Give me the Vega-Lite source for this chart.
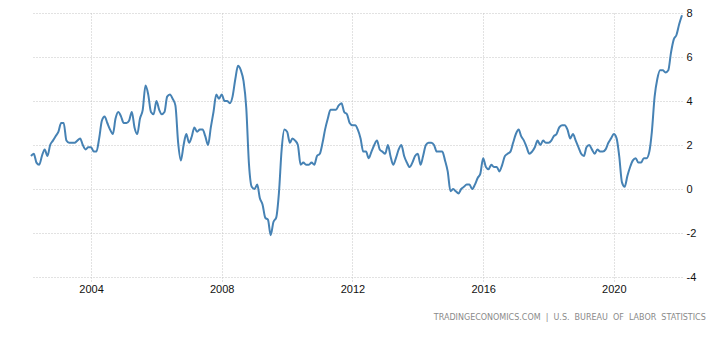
{
  "$schema": "https://vega.github.io/schema/vega-lite/v6.json",
  "autosize": {"type": "none"},
  "width": 651,
  "height": 264,
  "padding": {"left": 31, "top": 13, "right": 43, "bottom": 62},
  "background": "white",
  "config": {
    "view": {"stroke": null},
    "font": "Liberation Sans"
  },
  "title": {
    "text": "TRADINGECONOMICS.COM \u00a0| \u00a0U.S. \u00a0BUREAU \u00a0OF \u00a0LABOR \u00a0STATISTICS",
    "orient": "bottom",
    "anchor": "end",
    "font": "DejaVu Sans",
    "fontSize": 8,
    "fontWeight": "normal",
    "color": "#8a8a8a",
    "offset": 20,
    "dx": 10
  },
  "data": {
    "values": [
      {"d":"2002-03-01","v":1.5},{"d":"2002-04-01","v":1.6},{"d":"2002-05-01","v":1.2},{"d":"2002-06-01","v":1.1},{"d":"2002-07-01","v":1.5},{"d":"2002-08-01","v":1.8},{"d":"2002-09-01","v":1.5},{"d":"2002-10-01","v":2.0},{"d":"2002-11-01","v":2.2},{"d":"2002-12-01","v":2.4},
      {"d":"2003-01-01","v":2.6},{"d":"2003-02-01","v":3.0},{"d":"2003-03-01","v":3.0},{"d":"2003-04-01","v":2.2},{"d":"2003-05-01","v":2.1},{"d":"2003-06-01","v":2.1},{"d":"2003-07-01","v":2.1},{"d":"2003-08-01","v":2.2},{"d":"2003-09-01","v":2.3},{"d":"2003-10-01","v":2.0},{"d":"2003-11-01","v":1.8},{"d":"2003-12-01","v":1.9},
      {"d":"2004-01-01","v":1.9},{"d":"2004-02-01","v":1.7},{"d":"2004-03-01","v":1.7},{"d":"2004-04-01","v":2.3},{"d":"2004-05-01","v":3.1},{"d":"2004-06-01","v":3.3},{"d":"2004-07-01","v":3.0},{"d":"2004-08-01","v":2.7},{"d":"2004-09-01","v":2.5},{"d":"2004-10-01","v":3.2},{"d":"2004-11-01","v":3.5},{"d":"2004-12-01","v":3.3},
      {"d":"2005-01-01","v":3.0},{"d":"2005-02-01","v":3.0},{"d":"2005-03-01","v":3.1},{"d":"2005-04-01","v":3.5},{"d":"2005-05-01","v":2.8},{"d":"2005-06-01","v":2.5},{"d":"2005-07-01","v":3.2},{"d":"2005-08-01","v":3.6},{"d":"2005-09-01","v":4.7},{"d":"2005-10-01","v":4.3},{"d":"2005-11-01","v":3.5},{"d":"2005-12-01","v":3.4},
      {"d":"2006-01-01","v":4.0},{"d":"2006-02-01","v":3.6},{"d":"2006-03-01","v":3.4},{"d":"2006-04-01","v":3.5},{"d":"2006-05-01","v":4.2},{"d":"2006-06-01","v":4.3},{"d":"2006-07-01","v":4.1},{"d":"2006-08-01","v":3.8},{"d":"2006-09-01","v":2.1},{"d":"2006-10-01","v":1.3},{"d":"2006-11-01","v":2.0},{"d":"2006-12-01","v":2.5},
      {"d":"2007-01-01","v":2.1},{"d":"2007-02-01","v":2.4},{"d":"2007-03-01","v":2.8},{"d":"2007-04-01","v":2.6},{"d":"2007-05-01","v":2.7},{"d":"2007-06-01","v":2.7},{"d":"2007-07-01","v":2.4},{"d":"2007-08-01","v":2.0},{"d":"2007-09-01","v":2.8},{"d":"2007-10-01","v":3.5},{"d":"2007-11-01","v":4.3},{"d":"2007-12-01","v":4.1},
      {"d":"2008-01-01","v":4.3},{"d":"2008-02-01","v":4.0},{"d":"2008-03-01","v":4.0},{"d":"2008-04-01","v":3.9},{"d":"2008-05-01","v":4.2},{"d":"2008-06-01","v":5.0},{"d":"2008-07-01","v":5.6},{"d":"2008-08-01","v":5.4},{"d":"2008-09-01","v":4.9},{"d":"2008-10-01","v":3.7},{"d":"2008-11-01","v":1.1},{"d":"2008-12-01","v":0.1},
      {"d":"2009-01-01","v":0.0},{"d":"2009-02-01","v":0.2},{"d":"2009-03-01","v":-0.4},{"d":"2009-04-01","v":-0.7},{"d":"2009-05-01","v":-1.3},{"d":"2009-06-01","v":-1.4},{"d":"2009-07-01","v":-2.1},{"d":"2009-08-01","v":-1.5},{"d":"2009-09-01","v":-1.3},{"d":"2009-10-01","v":-0.2},{"d":"2009-11-01","v":1.8},{"d":"2009-12-01","v":2.7},
      {"d":"2010-01-01","v":2.6},{"d":"2010-02-01","v":2.1},{"d":"2010-03-01","v":2.3},{"d":"2010-04-01","v":2.2},{"d":"2010-05-01","v":2.0},{"d":"2010-06-01","v":1.1},{"d":"2010-07-01","v":1.2},{"d":"2010-08-01","v":1.1},{"d":"2010-09-01","v":1.1},{"d":"2010-10-01","v":1.2},{"d":"2010-11-01","v":1.1},{"d":"2010-12-01","v":1.5},
      {"d":"2011-01-01","v":1.6},{"d":"2011-02-01","v":2.1},{"d":"2011-03-01","v":2.7},{"d":"2011-04-01","v":3.2},{"d":"2011-05-01","v":3.6},{"d":"2011-06-01","v":3.6},{"d":"2011-07-01","v":3.6},{"d":"2011-08-01","v":3.8},{"d":"2011-09-01","v":3.9},{"d":"2011-10-01","v":3.5},{"d":"2011-11-01","v":3.4},{"d":"2011-12-01","v":3.0},
      {"d":"2012-01-01","v":2.9},{"d":"2012-02-01","v":2.9},{"d":"2012-03-01","v":2.7},{"d":"2012-04-01","v":2.3},{"d":"2012-05-01","v":1.7},{"d":"2012-06-01","v":1.7},{"d":"2012-07-01","v":1.4},{"d":"2012-08-01","v":1.7},{"d":"2012-09-01","v":2.0},{"d":"2012-10-01","v":2.2},{"d":"2012-11-01","v":1.8},{"d":"2012-12-01","v":1.7},
      {"d":"2013-01-01","v":1.6},{"d":"2013-02-01","v":2.0},{"d":"2013-03-01","v":1.5},{"d":"2013-04-01","v":1.1},{"d":"2013-05-01","v":1.4},{"d":"2013-06-01","v":1.8},{"d":"2013-07-01","v":2.0},{"d":"2013-08-01","v":1.5},{"d":"2013-09-01","v":1.2},{"d":"2013-10-01","v":1.0},{"d":"2013-11-01","v":1.2},{"d":"2013-12-01","v":1.5},
      {"d":"2014-01-01","v":1.6},{"d":"2014-02-01","v":1.1},{"d":"2014-03-01","v":1.5},{"d":"2014-04-01","v":2.0},{"d":"2014-05-01","v":2.1},{"d":"2014-06-01","v":2.1},{"d":"2014-07-01","v":2.0},{"d":"2014-08-01","v":1.7},{"d":"2014-09-01","v":1.7},{"d":"2014-10-01","v":1.7},{"d":"2014-11-01","v":1.3},{"d":"2014-12-01","v":0.8},
      {"d":"2015-01-01","v":-0.1},{"d":"2015-02-01","v":0.0},{"d":"2015-03-01","v":-0.1},{"d":"2015-04-01","v":-0.2},{"d":"2015-05-01","v":0.0},{"d":"2015-06-01","v":0.1},{"d":"2015-07-01","v":0.2},{"d":"2015-08-01","v":0.2},{"d":"2015-09-01","v":0.0},{"d":"2015-10-01","v":0.2},{"d":"2015-11-01","v":0.5},{"d":"2015-12-01","v":0.7},
      {"d":"2016-01-01","v":1.4},{"d":"2016-02-01","v":1.0},{"d":"2016-03-01","v":0.9},{"d":"2016-04-01","v":1.1},{"d":"2016-05-01","v":1.0},{"d":"2016-06-01","v":1.0},{"d":"2016-07-01","v":0.8},{"d":"2016-08-01","v":1.1},{"d":"2016-09-01","v":1.5},{"d":"2016-10-01","v":1.6},{"d":"2016-11-01","v":1.7},{"d":"2016-12-01","v":2.1},
      {"d":"2017-01-01","v":2.5},{"d":"2017-02-01","v":2.7},{"d":"2017-03-01","v":2.4},{"d":"2017-04-01","v":2.2},{"d":"2017-05-01","v":1.9},{"d":"2017-06-01","v":1.6},{"d":"2017-07-01","v":1.7},{"d":"2017-08-01","v":1.9},{"d":"2017-09-01","v":2.2},{"d":"2017-10-01","v":2.0},{"d":"2017-11-01","v":2.2},{"d":"2017-12-01","v":2.1},
      {"d":"2018-01-01","v":2.1},{"d":"2018-02-01","v":2.2},{"d":"2018-03-01","v":2.4},{"d":"2018-04-01","v":2.5},{"d":"2018-05-01","v":2.8},{"d":"2018-06-01","v":2.9},{"d":"2018-07-01","v":2.9},{"d":"2018-08-01","v":2.7},{"d":"2018-09-01","v":2.3},{"d":"2018-10-01","v":2.5},{"d":"2018-11-01","v":2.2},{"d":"2018-12-01","v":1.9},
      {"d":"2019-01-01","v":1.6},{"d":"2019-02-01","v":1.5},{"d":"2019-03-01","v":1.9},{"d":"2019-04-01","v":2.0},{"d":"2019-05-01","v":1.8},{"d":"2019-06-01","v":1.6},{"d":"2019-07-01","v":1.8},{"d":"2019-08-01","v":1.7},{"d":"2019-09-01","v":1.7},{"d":"2019-10-01","v":1.8},{"d":"2019-11-01","v":2.1},{"d":"2019-12-01","v":2.3},
      {"d":"2020-01-01","v":2.5},{"d":"2020-02-01","v":2.3},{"d":"2020-03-01","v":1.5},{"d":"2020-04-01","v":0.3},{"d":"2020-05-01","v":0.1},{"d":"2020-06-01","v":0.6},{"d":"2020-07-01","v":1.0},{"d":"2020-08-01","v":1.3},{"d":"2020-09-01","v":1.4},{"d":"2020-10-01","v":1.2},{"d":"2020-11-01","v":1.2},{"d":"2020-12-01","v":1.4},
      {"d":"2021-01-01","v":1.4},{"d":"2021-02-01","v":1.7},{"d":"2021-03-01","v":2.6},{"d":"2021-04-01","v":4.2},{"d":"2021-05-01","v":5.0},{"d":"2021-06-01","v":5.4},{"d":"2021-07-01","v":5.4},{"d":"2021-08-01","v":5.3},{"d":"2021-09-01","v":5.4},{"d":"2021-10-01","v":6.2},{"d":"2021-11-01","v":6.8},{"d":"2021-12-01","v":7.0},
      {"d":"2022-01-01","v":7.5},{"d":"2022-02-01","v":7.9}
    ]
  },
  "mark": {"type": "line", "interpolate": "monotone", "color": "#4682b4", "strokeWidth": 2},
  "encoding": {
    "x": {
      "field": "d",
      "type": "temporal",
      "title": null,
      "scale": {"type": "utc", "domain": [{"year": 2002, "month": 3, "date": 1, "utc": true}, {"year": 2022, "month": 2, "date": 1, "utc": true}]},
      "axis": {
        "values": [{"year": 2004, "utc": true}, {"year": 2008, "utc": true}, {"year": 2012, "utc": true}, {"year": 2016, "utc": true}, {"year": 2020, "utc": true}],
        "format": "%Y",
        "formatType": "utc",
        "domain": false,
        "ticks": true,
        "tickSize": 4,
        "tickColor": "#c4c4c4",
        "tickDash": [1, 2],
        "grid": true,
        "gridColor": "#c4c4c4",
        "gridDash": [1, 2],
        "labelFont": "Liberation Sans",
        "labelFontSize": 11,
        "labelColor": "#111111",
        "labelPadding": 2
      }
    },
    "y": {
      "field": "v",
      "type": "quantitative",
      "title": null,
      "scale": {"domain": [-4, 8], "nice": false, "zero": false},
      "axis": {
        "orient": "right",
        "values": [-4, -2, 0, 2, 4, 6, 8],
        "labelExpr": "'' + datum.value",
        "domain": false,
        "ticks": false,
        "grid": true,
        "gridColor": "#c4c4c4",
        "gridDash": [1, 2],
        "labelFont": "Liberation Sans",
        "labelFontSize": 11,
        "labelColor": "#111111",
        "labelPadding": 4
      }
    }
  }
}
